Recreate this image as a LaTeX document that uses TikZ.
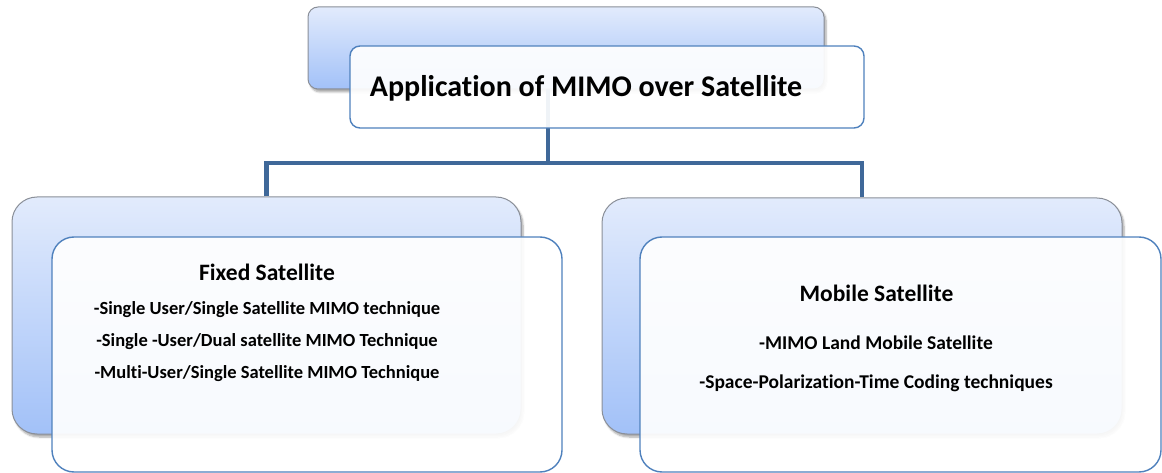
\documentclass[tikz,border=0pt]{standalone}
\usepackage{fontspec}
\setmainfont{Carlito}[Ligatures={NoCommon,NoContextual},Contextuals=NoAlternate,RawFeature={-liga;-clig;-calt}]
\usetikzlibrary{shadows.blur}
\definecolor{backtop}{HTML}{E2EBFC}
\definecolor{backbot}{HTML}{A2C1F8}
\definecolor{backline}{HTML}{8A8F98}
\definecolor{frontline}{HTML}{4F81BD}
\definecolor{connline}{HTML}{3F6899}
\begin{document}
\begin{tikzpicture}[x=1pt,y=-1pt,
  backbox/.style={draw=backline, line width=1pt, top color=backtop, bottom color=backbot,
    inner sep=0pt, blur shadow={shadow xshift=2pt, shadow yshift=-3pt, shadow opacity=35, shadow blur steps=6}},
  frontbox/.style={draw=frontline, line width=1.4pt, fill=white, fill opacity=0.92, inner sep=0pt},
  conn/.style={draw=connline, line width=4.5pt},
  headtext/.style={font=\bfseries\fontsize{30}{34}\selectfont, inner sep=0pt},
  titletext/.style={font=\bfseries\fontsize{23.5}{28}\selectfont, inner sep=0pt},
  itemtext/.style={font=\bfseries\fontsize{18.5}{22}\selectfont, inner sep=0pt},
  mobitemtext/.style={font=\bfseries\fontsize{19.5}{23}\selectfont, inner sep=0pt}]
\useasboundingbox (0,0) rectangle (1162,473);

% back panels
\node[backbox, rounded corners=10pt, minimum width=516pt, minimum height=82pt] (topback) at (566,48) {};
\node[backbox, rounded corners=25pt, minimum width=509pt, minimum height=237pt] (leftback) at (266.5,315.5) {};
\node[backbox, rounded corners=25pt, minimum width=520pt, minimum height=236pt] (rightback) at (862,316) {};

% tree connectors
\coordinate (hub) at (548,163);
\draw[conn] (topback.south -| hub) -- (hub);
\draw[conn, line join=miter] (leftback.north) |- (hub) -| (rightback.north);

% front panels
\node[frontbox, rounded corners=10pt, minimum width=514pt, minimum height=82pt] (topfront) at (607,87) {};
\node[frontbox, rounded corners=22pt, minimum width=510pt, minimum height=235pt] (leftfront) at (307,354.5) {};
\node[frontbox, rounded corners=22pt, minimum width=521pt, minimum height=235pt] (rightfront) at (900.5,354.5) {};

% texts
\node[headtext] (head) at (586,88) {Application of MIMO over Satellite};

\node[titletext] (fixedtitle) at (267,272) {Fixed Satellite};
\node[itemtext] (fixedA) at (267,310) {-Single User/Single Satellite MIMO technique};
\node[itemtext] (fixedB) at (267,342) {-Single -User/Dual satellite MIMO Technique};
\node[itemtext] (fixedC) at (267,374) {-Multi-User/Single Satellite MIMO Technique};

\node[titletext] (mobiletitle) at (876.5,293) {Mobile Satellite};
\node[mobitemtext] (mobileA) at (876,343) {-MIMO Land Mobile Satellite};
\node[mobitemtext] (mobileB) at (876,383) {-Space-Polarization-Time Coding techniques};
\end{tikzpicture}
\end{document}
